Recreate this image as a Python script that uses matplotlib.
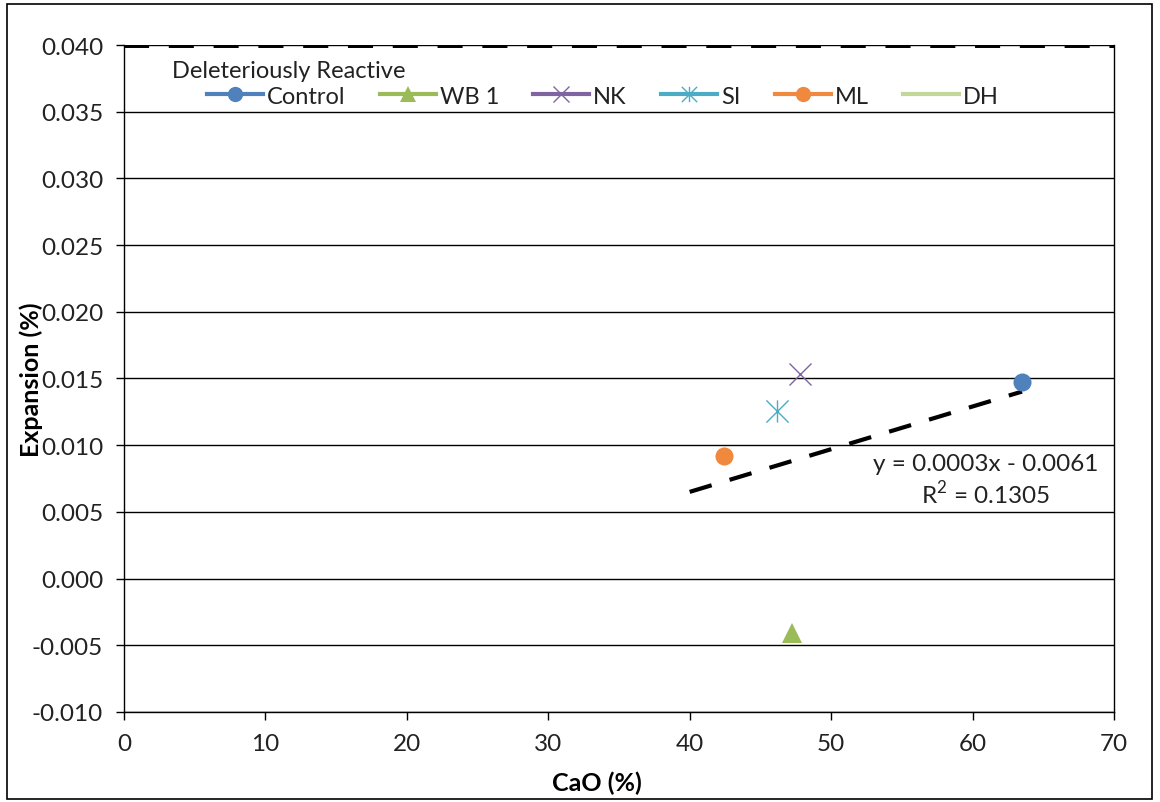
import matplotlib
matplotlib.use("Agg")
import matplotlib.pyplot as plt
import numpy as np
from matplotlib.lines import Line2D
from matplotlib.patches import Rectangle
from matplotlib.path import Path
from matplotlib.ticker import FuncFormatter, MultipleLocator

plt.rcParams["font.family"] = ["Lato", "DejaVu Sans"]
plt.rcParams["mathtext.fontset"] = "custom"
plt.rcParams["mathtext.rm"] = "Lato"

# data
series = ["Control", "WB 1", "NK", "SI", "ML", "DH"]
cao = [63.5, 47.2, 47.8, 46.2, 42.4, np.nan]
expansion = [0.0147, -0.0041, 0.0153, 0.0126, 0.0092, np.nan]
colors = ["#4F81BD", "#9BBB59", "#8064A2", "#4BACC6", "#F0883E", "#C4D79B"]

limit_value = 0.040
limit_label = "Deleteriously Reactive"
trend_x = [40.0, 63.5]
trend_slope = 0.00032
trend_intercept = -0.0063
trend_text = "y = 0.0003x - 0.0061\nR$^{2}$ = 0.1305"

# excel style star: x plus vertical bar
star = Path(
    [(-1, -1), (1, 1), (-1, 1), (1, -1), (0, -1), (0, 1)],
    [Path.MOVETO, Path.LINETO, Path.MOVETO, Path.LINETO, Path.MOVETO, Path.LINETO],
)
markers = ["o", "^", "x", star, "o", None]
sizes = [13, 14, 16, 16, 13, 0]

fig = plt.figure(figsize=(11.6, 8.03), dpi=100)
ax = fig.add_axes([0.1069, 0.1121, 0.8534, 0.8306])

ax.set_xlim(0, 70)
ax.set_ylim(-0.010, 0.040)
ax.xaxis.set_major_locator(MultipleLocator(10))
ax.yaxis.set_major_locator(MultipleLocator(0.005))
ax.yaxis.set_major_formatter(FuncFormatter(lambda v, p: f"{v:.3f}".replace("\u2212", "-")))
ax.grid(axis="y", color="black", linewidth=1.0)
ax.set_axisbelow(True)
for side in ["left", "right", "bottom"]:
    ax.spines[side].set_color("black")
    ax.spines[side].set_linewidth(1.0)
ax.spines["top"].set_visible(False)
ax.tick_params(axis="both", direction="out", length=6, width=1, color="black",
               labelsize=17.5, labelcolor="#222222")
ax.tick_params(axis="y", pad=9, right=False)
ax.tick_params(axis="x", pad=9)

ax.axhline(limit_value, color="black", linewidth=4.3, dashes=(4.2, 3.3), zorder=3)

handles = []
for name, x, y, c, m, s in zip(series, cao, expansion, colors, markers, sizes):
    mew = 1.0 if name in ("NK", "SI") else 0
    ax.plot([x], [y], linestyle="none", marker=m, markersize=s, color=c,
            markeredgewidth=mew, zorder=4)
    h = Line2D([], [], color=c, linewidth=3, marker=m,
               markersize=min(s, 11), markeredgewidth=mew)
    handles.append(h)

tx = np.array(trend_x)
ax.plot(tx, trend_slope * tx + trend_intercept, color="black", linewidth=3,
        dashes=(5.5, 4.5), zorder=3)
ax.text(60.9, 0.0074, trend_text, ha="center", va="center", fontsize=17.5,
        color="#222222", linespacing=1.2)

ax.set_xlabel("CaO (%)", fontsize=18, fontweight="bold")
ax.set_ylabel("Expansion (%)", fontsize=18, fontweight="bold")
ax.xaxis.set_label_coords(0.478, -0.088)
ax.yaxis.set_label_coords(-0.082, 0.5)

fig.text(172 / 1160, 1 - 72 / 803, limit_label, fontsize=17, ha="left", va="center",
         color="#222222")
lg = fig.legend(handles, series, loc="center left", ncol=6,
                bbox_to_anchor=(207 / 1160, 1 - 97 / 803),
                frameon=False, fontsize=17, handlelength=2.37, handletextpad=0.17,
                columnspacing=1.45, borderpad=0, borderaxespad=0)
for t in lg.get_texts():
    t.set_color("#222222")

fig.patches.append(Rectangle((7 / 1160, 3 / 803), 1145 / 1160, 795 / 803,
                             transform=fig.transFigure, fill=False,
                             edgecolor="black", linewidth=1.2))

fig.savefig("out.png", dpi=100)
